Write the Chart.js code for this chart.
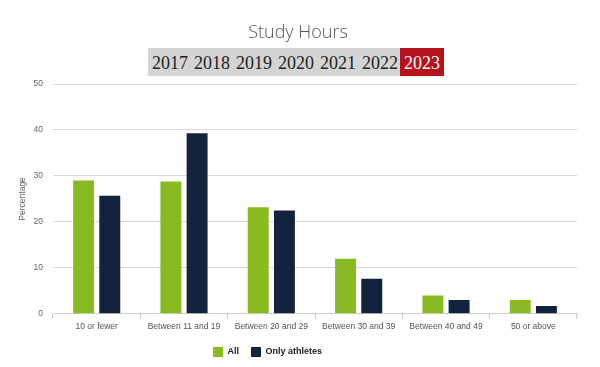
<!DOCTYPE html>
<html><head><meta charset="utf-8">
<script src="https://cdn.jsdelivr.net/npm/chart.js@4.4.1/dist/chart.umd.min.js"></script>
<style>
html,body{margin:0;padding:0;background:#fff;width:600px;height:367px;overflow:hidden;}
#wrap{position:relative;width:600px;height:367px;}
#title{position:absolute;left:0;top:19px;width:596px;text-align:center;font-family:"Open Sans","Liberation Sans",sans-serif;font-weight:300;font-size:18px;color:#555;}
#years{position:absolute;left:148px;top:48px;height:28px;background:#d4d4d4;display:flex;font-family:"Liberation Serif","DejaVu Serif",serif;font-size:18px;color:#222;}
#years span{display:block;line-height:30px;padding:0 2px 0 4px;}
#years span.sel{background:#b5121b;color:#fff;padding:0 4px;}
canvas{position:absolute;left:0;top:0;}
</style></head>
<body><div id="wrap"><canvas id="c" width="600" height="367"></canvas>
<div id="title">Study Hours</div>
<div id="years"></div></div>
<script>
const yearLabels = ["2017","2018","2019","2020","2021","2022","2023"];
const selectedYear = "2023";
const categories = ["10 or fewer","Between 11 and 19","Between 20 and 29","Between 30 and 39","Between 40 and 49","50 or above"];
const allValues = [29.0, 28.8, 23.2, 12.0, 4.0, 3.0];
const athleteValues = [25.7, 39.3, 22.5, 7.6, 3.0, 1.7];
const seriesNames = ["All","Only athletes"];

const yb = document.getElementById('years');
yearLabels.forEach(y=>{const s=document.createElement('span');s.textContent=y;if(y===selectedYear)s.className='sel';yb.appendChild(s);});

const legendShift = {
  id:'legendShift',
  afterLayout(chart){ if(chart.legend){ chart.legend.left -= 30; chart.legend.right -= 30; chart.legend.adjustHitBoxes && chart.legend.adjustHitBoxes(); } }
};

new Chart(document.getElementById('c'), {
  type:'bar',
  data:{labels:categories,datasets:[
    {label:seriesNames[0],data:allValues,backgroundColor:'#8aba22'},
    {label:seriesNames[1],data:athleteValues,backgroundColor:'#13233d'}
  ]},
  plugins:[legendShift],
  options:{
    responsive:false,animation:false,
    layout:{padding:{top:84,right:23,left:18,bottom:0}},
    datasets:{bar:{categoryPercentage:0.6,barPercentage:0.8}},
    plugins:{
      legend:{position:'bottom',labels:{boxWidth:10,boxHeight:10,padding:12,color:'#222',font:{family:'"Liberation Sans",Arial,sans-serif',size:9,weight:'bold'}}},
      tooltip:{enabled:false}
    },
    scales:{
      x:{grid:{display:true,drawOnChartArea:false,drawTicks:true,tickLength:5,color:'#ccc',offset:true},border:{color:'#ccc'},
         ticks:{color:'#555',font:{family:'"Liberation Sans",Arial,sans-serif',size:8.5},maxRotation:0,padding:3}},
      y:{min:0,max:50,ticks:{stepSize:10,color:'#666',font:{family:'"Liberation Sans",Arial,sans-serif',size:8.5},padding:10},
         grid:{color:'#d9d9d9',drawTicks:false},border:{display:false},
         afterFit(scale){ scale.width = 35; },
         title:{display:true,text:'Percentage',color:'#666',font:{family:'"Liberation Sans",Arial,sans-serif',size:8.5},padding:{top:0,bottom:0}}}
    }
  }
});
</script></body></html>
